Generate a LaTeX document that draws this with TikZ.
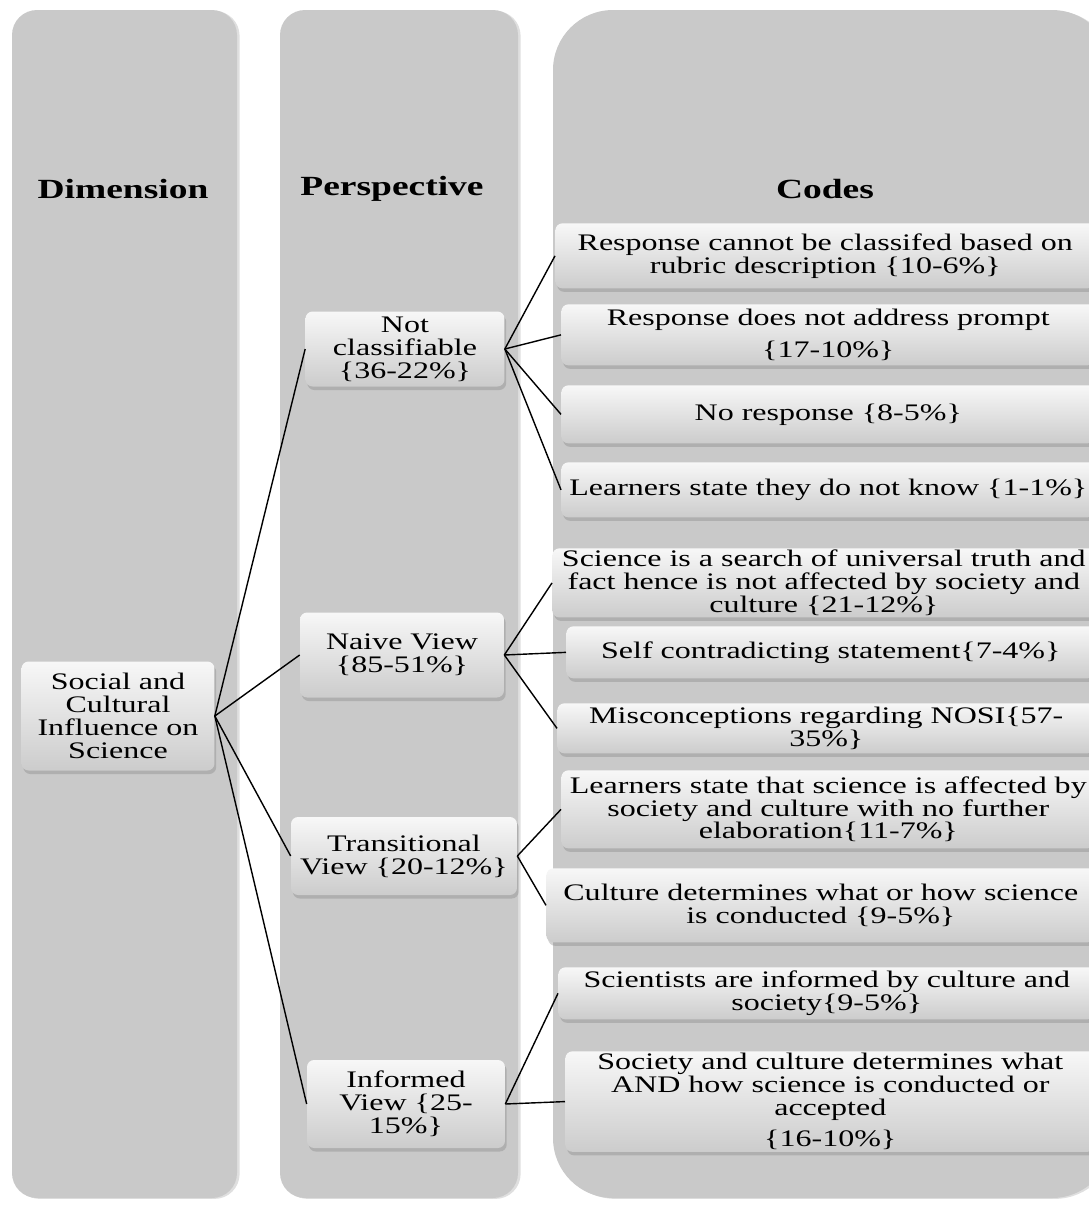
\documentclass[tikz,border=0pt]{standalone}
\usepackage{fontspec}
\setmainfont{Liberation Serif}[FakeStretch=1.35]
\usepackage{tikz}
\usetikzlibrary{
    positioning,
    shadows
}

\begin{document}
\begin{tikzpicture}[
    x=0.02cm, y=-0.02cm,
    panel/.style={fill=black!21, draw=none, drop shadow={shadow xshift=1.5pt, shadow yshift=-0.5pt, opacity=0.25}},
    head/.style={font=\fontsize{15.8}{16}\selectfont\bfseries},
    box/.style={rectangle, rounded corners=4pt, inner sep=1pt, align=center,
        top color=white!97!black, bottom color=black!20, draw=none,
        drop shadow={shadow xshift=1pt, shadow yshift=-2pt, opacity=0.35},
        font=\fontsize{13.5}{13}\selectfont},
    code/.style={box, anchor=north west},
    link/.style={line width=0.8pt},
]
\useasboundingbox (0,0) rectangle (1089,1205);
\clip (0,0) rectangle (1089,1205);

% Columns
\path[panel, rounded corners=0.5cm] (12,10) rectangle (237,1198);
\path[panel, rounded corners=0.5cm] (280,10) rectangle (518,1198);
\path[panel, rounded corners=1.2cm] (553,10) rectangle (1112,1198);

\node[head] (hdim) at (123,189) {Dimension};
\node[head] (hper) at (392,189) {Perspective};
\node[head] (hcod) at (825,189) {Codes};

% Dimension
\node[box, minimum width=3.86cm, minimum height=2.18cm] (soc) at (118,716)
    {Social and\\Cultural\\Influence on\\Science};

% Perspectives
\node[box, minimum width=3.98cm, minimum height=1.50cm] (notc) at (405,349)
    {Not\\classifiable\\\{36-22\%\}};
\node[box, minimum width=4.08cm, minimum height=1.70cm] (naive) at (402,655)
    {Naive View\\\{85-51\%\}};
\node[box, minimum width=4.52cm, minimum height=1.56cm] (trans) at (404,856)
    {Transitional\\View \{20-12\%\}};
\node[box, minimum width=3.96cm, minimum height=1.76cm] (inf) at (406,1104)
    {Informed\\View \{25-\\15\%\}};

% Codes
\node[code, minimum width=10.80cm, minimum height=1.30cm] (c1) at (555,223)
    {Response cannot be classifed based on\\rubric description \{10-6\%\}};
\node[code, minimum width=10.68cm, minimum height=1.22cm] (c2) at (561,304)
    {Response does not address prompt\\[5pt]\{17-10\%\}};
\node[code, minimum width=10.68cm, minimum height=1.16cm] (c3) at (561,385)
    {No response \{8-5\%\}};
\node[code, minimum width=10.68cm, minimum height=1.10cm] (c4) at (561,462)
    {Learners state they do not know \{1-1\%\}};
\node[code, minimum width=10.86cm, minimum height=1.30cm] (c5) at (552,548)
    {Science is a search of universal truth and\\fact hence is not affected by society and\\culture \{21-12\%\}};
\node[code, minimum width=10.58cm, minimum height=1.04cm] (c6) at (566,626)
    {Self contradicting statement\{7-4\%\}};
\node[code, minimum width=10.76cm, minimum height=1.00cm] (c7) at (557,703)
    {Misconceptions regarding NOSI\{57-\\35\%\}};
\node[code, minimum width=10.68cm, minimum height=1.56cm] (c8) at (561,770)
    {Learners state that science is affected by\\society and culture with no further\\elaboration\{11-7\%\}};
\node[code, minimum width=10.98cm, minimum height=1.48cm] (c9) at (546,868)
    {Culture determines what or how science\\is conducted \{9-5\%\}};
\node[code, minimum width=10.74cm, minimum height=1.04cm] (c10) at (558,967)
    {Scientists are informed by culture and\\society\{9-5\%\}};
\node[code, minimum width=10.60cm, minimum height=1.92cm] (c11) at (565,1051)
    {Society and culture determines what\\AND how science is conducted or\\accepted\\[5pt]\{16-10\%\}};

% Links
\foreach \p in {notc,naive,trans,inf}
    \draw[link] (soc.east) -- (\p.west);
\foreach \c in {c1,c2,c3,c4}
    \draw[link] (notc.east) -- (\c.west);
\foreach \c in {c5,c6,c7}
    \draw[link] (naive.east) -- (\c.west);
\foreach \c in {c8,c9}
    \draw[link] (trans.east) -- (\c.west);
\foreach \c in {c10,c11}
    \draw[link] (inf.east) -- (\c.west);
\end{tikzpicture}
\end{document}
